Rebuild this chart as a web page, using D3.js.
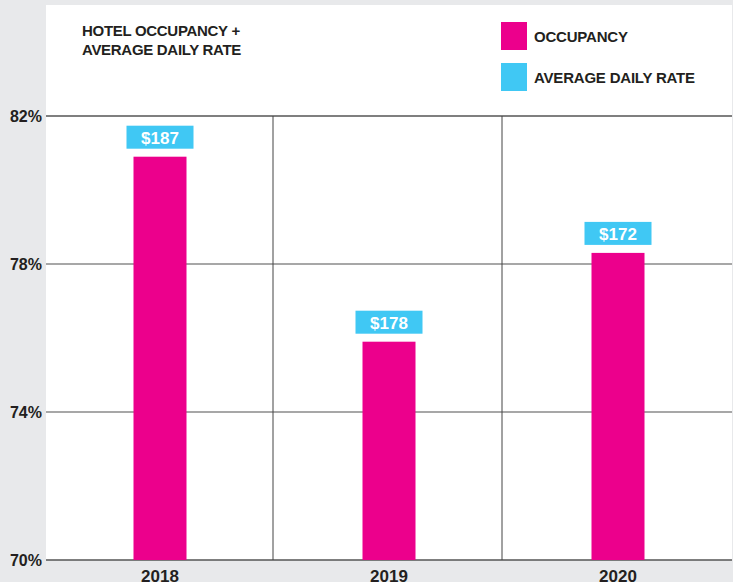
<!DOCTYPE html>
<html>
<head>
<meta charset="utf-8">
<script src="https://cdn.jsdelivr.net/npm/d3@7"></script>
<style>
  body { margin: 0; background: #e8e9eb; }
  text { font-family: "Liberation Sans", Arial, sans-serif; font-weight: bold; }
</style>
</head>
<body>
<div id="chart"></div>
<script>
var years = ['2018', '2019', '2020'];
var occupancy = [80.9, 75.9, 78.3];
var rates = ['$187', '$178', '$172'];
var yTicks = [70, 74, 78, 82];
var legendItems = ['OCCUPANCY', 'AVERAGE DAILY RATE'];

var width = 733;
var height = 582;
var pink = '#ec008c';
var blue = '#40c8f4';

var svg = d3
  .select('#chart')
  .append('svg')
  .attr('width', width)
  .attr('height', height);

var x = d3.scaleBand().domain(years).range([45.5, 732.5]);
var y = d3.scaleLinear().domain([70, 82]).range([560, 116]);

// white panel
svg
  .append('rect')
  .attr('x', 46)
  .attr('y', 5)
  .attr('width', 686)
  .attr('height', 555)
  .attr('fill', '#fff');

// horizontal grid
svg
  .append('g')
  .selectAll('line')
  .data(yTicks)
  .enter()
  .append('line')
  .attr('x1', 46)
  .attr('x2', 732)
  .attr('y1', function (d) { return y(d); })
  .attr('y2', function (d) { return y(d); })
  .attr('stroke', function (d) { return d === 78 || d === 74 ? '#8a8a8a' : '#555'; })
  .attr('stroke-width', 1.5);

// vertical separators
svg
  .append('g')
  .selectAll('line')
  .data(years.slice(1))
  .enter()
  .append('line')
  .attr('x1', function (d) { return Math.round(x(d)) - 2; })
  .attr('x2', function (d) { return Math.round(x(d)) - 2; })
  .attr('y1', y(82))
  .attr('y2', y(70))
  .attr('stroke', '#444')
  .attr('stroke-width', 1);

// y labels
svg
  .append('g')
  .selectAll('text')
  .data(yTicks)
  .enter()
  .append('text')
  .attr('x', 42)
  .attr('y', function (d) { return y(d); })
  .attr('dy', '0.36em')
  .attr('text-anchor', 'end')
  .attr('font-size', 16)
  .attr('fill', '#231f20')
  .text(function (d) { return d + '%'; });

// x labels (cut by the bottom edge, as in the original)
svg
  .append('g')
  .selectAll('text')
  .data(years)
  .enter()
  .append('text')
  .attr('x', function (d) { return x(d) + x.bandwidth() / 2; })
  .attr('y', 582)
  .attr('text-anchor', 'middle')
  .attr('font-size', 17)
  .attr('fill', '#231f20')
  .text(function (d) { return d; });

var barW = 53;

// bars
svg
  .append('g')
  .selectAll('rect')
  .data(years)
  .enter()
  .append('rect')
  .attr('x', function (d) { return x(d) + x.bandwidth() / 2 - barW / 2; })
  .attr('y', function (d, i) { return y(occupancy[i]); })
  .attr('width', barW)
  .attr('height', function (d, i) { return y(70) - y(occupancy[i]); })
  .attr('fill', pink);

// rate boxes
var boxW = 67;
var boxH = 23;
var boxes = svg
  .append('g')
  .selectAll('g')
  .data(years)
  .enter()
  .append('g')
  .attr('transform', function (d, i) {
    return 'translate(' + (x(d) + x.bandwidth() / 2) + ',' + (y(occupancy[i]) - 8 - boxH) + ')';
  });

boxes
  .append('rect')
  .attr('x', -boxW / 2)
  .attr('width', boxW)
  .attr('height', boxH)
  .attr('fill', blue);

boxes
  .append('text')
  .attr('y', 18)
  .attr('text-anchor', 'middle')
  .attr('font-size', 17)
  .attr('fill', '#fff')
  .text(function (d, i) { return rates[i]; });

// title
svg
  .append('text')
  .attr('x', 82)
  .attr('y', 36)
  .attr('font-size', 15)
  .attr('letter-spacing', -0.3)
  .attr('fill', '#231f20')
  .text('HOTEL OCCUPANCY +');

svg
  .append('text')
  .attr('x', 82)
  .attr('y', 55)
  .attr('font-size', 15)
  .attr('letter-spacing', -0.3)
  .attr('fill', '#231f20')
  .text('AVERAGE DAILY RATE');

// legend
var legend = svg
  .append('g')
  .selectAll('g')
  .data(legendItems)
  .enter()
  .append('g')
  .attr('transform', function (d, i) { return 'translate(501,' + (22 + i * 41) + ')'; });

legend
  .append('rect')
  .attr('width', 26)
  .attr('height', 28)
  .attr('fill', function (d, i) { return i === 0 ? pink : blue; });

legend
  .append('text')
  .attr('x', 33)
  .attr('y', 20)
  .attr('font-size', 15)
  .attr('letter-spacing', -0.2)
  .attr('fill', '#231f20')
  .text(function (d) { return d; });
</script>
</body>
</html>
